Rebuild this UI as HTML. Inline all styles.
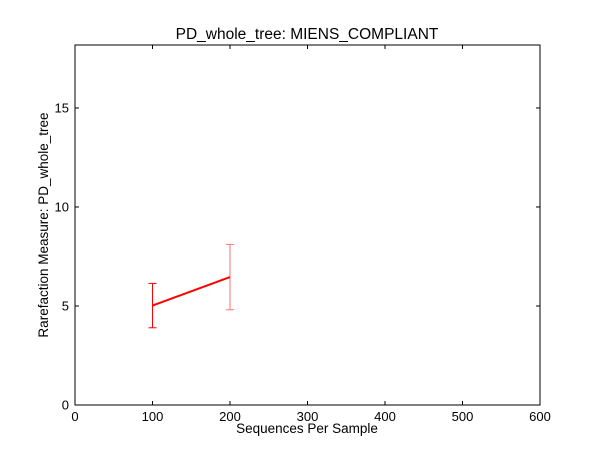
<!DOCTYPE html>
<html><head><meta charset="utf-8"><style>
body{margin:0;background:#fff;}
svg{display:block;font-family:"Liberation Sans","DejaVu Sans",sans-serif;}
</style></head><body>
<svg id="chart" width="600" height="450">
<rect x="0" y="0" width="600" height="450" fill="#fff"/>
<text x="307" y="39" font-size="15.5" text-anchor="middle">PD_whole_tree: MIENS_COMPLIANT</text>
<rect x="75" y="45" width="465" height="360" fill="none" stroke="#000" stroke-width="1"/>
<g id="xticks"></g><g id="yticks"></g><g id="series"></g>
<text x="307" y="433" font-size="13.5" text-anchor="middle">Sequences Per Sample</text>
<text transform="translate(48,225) rotate(-90)" font-size="13.5" text-anchor="middle">Rarefaction Measure: PD_whole_tree</text>
</svg>
<script>
const xs = [100, 200];
const means = [5.02, 6.46];
const errs = [1.12, 1.65];
const xTicks = [0, 100, 200, 300, 400, 500, 600];
const yTicks = [0, 5, 10, 15];
const NS = "http://www.w3.org/2000/svg";
function X(v){return 75 + v/600*465;}
function Y(v){return 405 - v/18.18*360;}
function mk(tag, attrs, parent){const e=document.createElementNS(NS,tag);for(const k in attrs)e.setAttribute(k,attrs[k]);parent.appendChild(e);return e;}
const xg=document.getElementById('xticks'), yg=document.getElementById('yticks'), sg=document.getElementById('series');
xTicks.forEach(t=>{
  const x=X(t);
  mk('line',{x1:x,x2:x,y1:405,y2:401,stroke:'#000'},xg);
  mk('line',{x1:x,x2:x,y1:45,y2:49,stroke:'#000'},xg);
  const tx=mk('text',{x:x,y:421,'font-size':13,'text-anchor':'middle'},xg);
  tx.textContent=t;
  
  
});
yTicks.forEach(t=>{
  const y=Y(t);
  mk('line',{x1:75,x2:79,y1:y,y2:y,stroke:'#000'},yg);
  mk('line',{x1:536,x2:540,y1:y,y2:y,stroke:'#000'},yg);
  const tx=mk('text',{x:69,y:y+4.5,'font-size':13,'text-anchor':'end'},yg);
  tx.textContent=t;
  
  
});
xs.forEach((v,i)=>{
  const x=X(v), t=Y(means[i]+errs[i]), b=Y(means[i]-errs[i]);
  const g=mk('g',{stroke:'red','stroke-width':1,opacity:i===0?1:0.55},sg);
  
  
  mk('line',{x1:x,x2:x,y1:t,y2:b},g);
  mk('line',{x1:x-4,x2:x+4,y1:t,y2:t},g);
  mk('line',{x1:x-4,x2:x+4,y1:b,y2:b},g);
});
const pl=mk('polyline',{points:xs.map((v,i)=>X(v)+','+Y(means[i])).join(' '),fill:'none',stroke:'red','stroke-width':2},sg);


</script>
</body></html>
